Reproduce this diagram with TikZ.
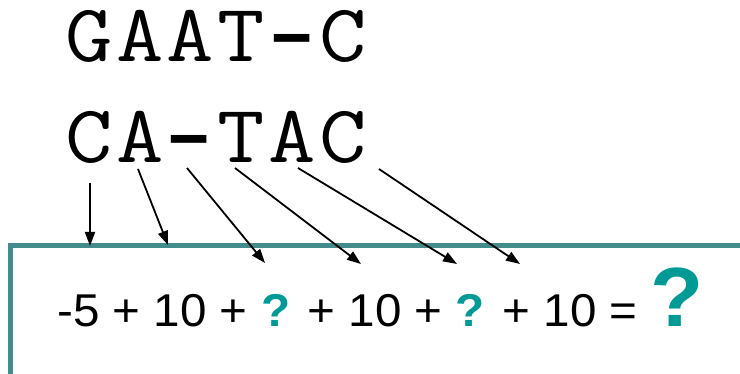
\documentclass[tikz,border=0pt]{standalone}
\usepackage{fontspec}
\setmainfont{Liberation Sans}
\newfontfamily\gapfont{Liberation Mono}
\usepackage{xcolor}
\definecolor{boxline}{HTML}{428C8E}
\definecolor{qmark}{HTML}{009A96}
\usetikzlibrary{arrows.meta}

\begin{document}
\begin{tikzpicture}[
  x=1pt, y=-1pt,
  seq/.style={anchor=base, inner sep=0pt, font=\ttfamily\fontsize{82}{82}\selectfont},
  gap/.style={anchor=base, inner sep=0pt, font=\gapfont\bfseries\fontsize{66}{66}\selectfont},
  sum/.style={anchor=base west, inner sep=0pt, font=\fontsize{46}{46}\selectfont},
  arrow/.style={-{Triangle[length=14pt, width=10pt]}, line width=1.8pt, color=black},
  frame/.style={draw=boxline, line width=5pt},
]
\clip (0,0) rectangle (740,374);

% Aligned sequences, one node per column
\foreach \ch/\i in {G/1,A/2,A/3,T/4,C/6}
  \node[seq] (top\i) at ({89+50.8*(\i-1)},62) {\scalebox{1.12}[1]{\ch}};
\node[gap] (top5) at (292,56) {\scalebox{1.9}[1]{-}};
\foreach \ch/\i in {C/1,A/2,T/4,A/5,C/6}
  \node[seq] (bot\i) at ({89+50.8*(\i-1)},163) {\scalebox{1.12}[1]{\ch}};
\node[gap] (bot3) at (189,157) {\scalebox{1.9}[1]{-}};

% Score box
\draw[frame] (10,246) rectangle (780,377);
\node[sum] (score) at (57,327)
  {\scalebox{1.035}[1]{-5 + 10 + \textcolor{qmark}{\bfseries ?} + 10 + \textcolor{qmark}{\bfseries ?} + 10 =
   \textcolor{qmark}{\fontsize{84}{84}\selectfont\bfseries ?}}};

% Column start points and targets
\coordinate (s1) at (90,183);  \coordinate (t1) at (90,246);
\coordinate (s2) at (138,169); \coordinate (t2) at (168,245);
\coordinate (s3) at (187,168); \coordinate (t3) at (265,263);
\coordinate (s4) at (235,168); \coordinate (t4) at (361,264);
\coordinate (s5) at (298,168); \coordinate (t5) at (457,264);
\coordinate (s6) at (379,169); \coordinate (t6) at (520,264);

% Arrows
\foreach \i in {1,...,6}
  \draw[arrow] (s\i) -- (t\i);

\end{tikzpicture}
\end{document}
